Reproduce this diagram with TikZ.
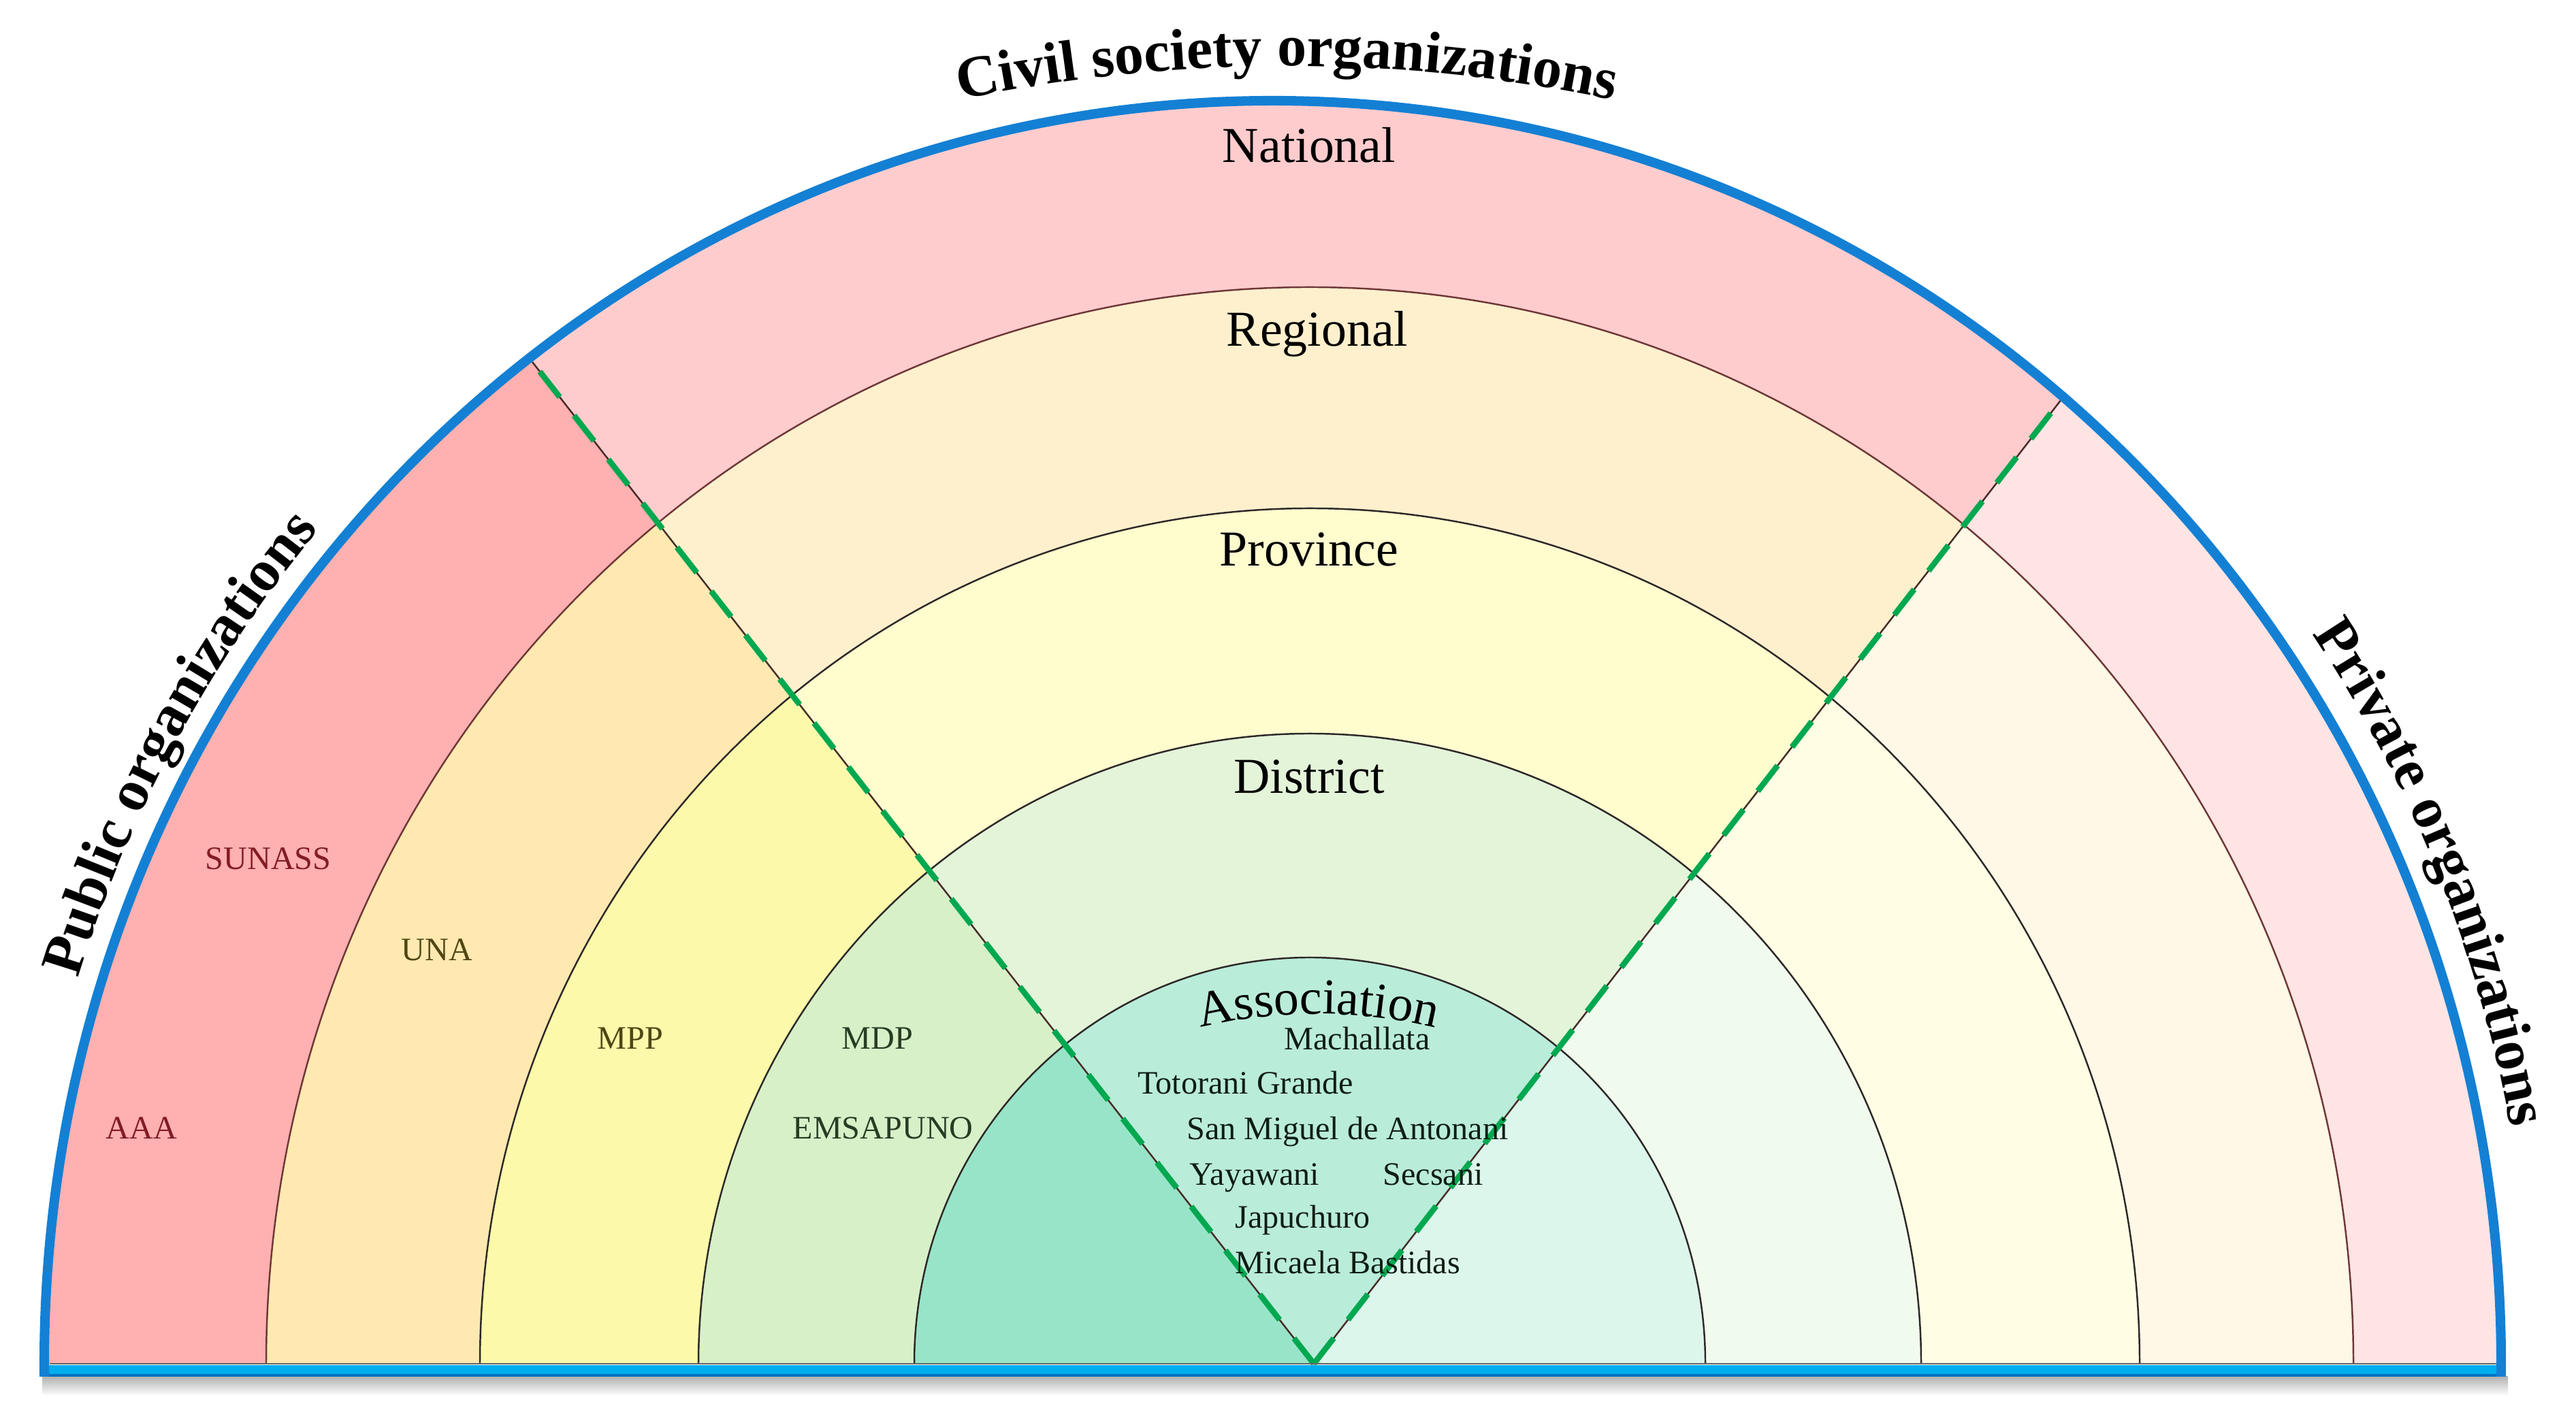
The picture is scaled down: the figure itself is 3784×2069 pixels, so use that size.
\documentclass[tikz,border=0pt]{standalone}
\usepackage{fontspec}
\setmainfont{Liberation Serif}
\usetikzlibrary{decorations.text,calc}
\definecolor{natM}{RGB}{255,204,206}
\definecolor{natL}{RGB}{255,176,176}
\definecolor{natR}{RGB}{255,228,228}
\definecolor{regM}{RGB}{255,240,205}
\definecolor{regL}{RGB}{255,233,176}
\definecolor{regR}{RGB}{255,248,230}
\definecolor{proM}{RGB}{255,252,206}
\definecolor{proL}{RGB}{252,250,170}
\definecolor{proR}{RGB}{255,254,228}
\definecolor{disM}{RGB}{227,244,217}
\definecolor{disL}{RGB}{216,240,200}
\definecolor{disR}{RGB}{240,250,237}
\definecolor{assM}{RGB}{186,236,218}
\definecolor{assL}{RGB}{152,228,200}
\definecolor{assR}{RGB}{220,246,236}
\definecolor{rimblue}{RGB}{20,128,212}
\definecolor{barblue}{RGB}{0,174,239}
\definecolor{bardark}{RGB}{0,112,192}
\definecolor{dashgreen}{RGB}{0,168,80}
\definecolor{ringline}{RGB}{45,40,40}
\definecolor{brownline}{RGB}{110,55,55}
\definecolor{redtxt}{RGB}{130,28,36}
\definecolor{olivetxt}{RGB}{80,70,20}
\definecolor{greentxt}{RGB}{40,60,35}
\definecolor{nametxt}{RGB}{15,30,20}
\newcommand\bigbold{\fontsize{24.5}{29}\selectfont\bfseries}
\newcommand\ringfont{\fontsize{21}{25}\selectfont}
\newcommand\smallfont{\fontsize{13.7}{16}\selectfont}
\newcommand\fillrings[5]{%
  \fill[#1] ($(O)+(-1804.5,0)$) arc[start angle=180,end angle=0,x radius=1804.5,y radius=1856] -- cycle;
  \fill[#2] ($(C)+(-1533,0)$) arc[start angle=180,end angle=0,x radius=1533,y radius=1582] -- cycle;
  \fill[#3] ($(C)+(-1219,0)$) arc[start angle=180,end angle=0,x radius=1219,y radius=1257] -- cycle;
  \fill[#4] ($(C)+(-898,0)$) arc[start angle=180,end angle=0,x radius=898,y radius=926] -- cycle;
  \fill[#5] ($(C)+(-581,0)$) arc[start angle=180,end angle=0,x radius=581,y radius=597] -- cycle;
}
\begin{document}
\begin{tikzpicture}[x=0.1mm,y=0.1mm,
  ringedge/.style={draw=ringline,line width=0.7pt},
  vline/.style={draw={rgb,255:red,70;green,45;blue,40},line width=0.7pt},
  gdash/.style={draw=dashgreen,line width=2.4pt,dash pattern=on 13.5pt off 9.8pt},
  lvl/.style={font=\ringfont,anchor=base,inner sep=0pt},
  org/.style={font=\smallfont,anchor=base west,inner sep=0pt},
]
\useasboundingbox (0,0) rectangle (3784,2069);
\coordinate (C) at (1924,65);
\coordinate (O) at (1869.5,65);
\coordinate (apex) at (1930,65);
\coordinate (Ltop) at (782,1537);
\coordinate (Rtop) at (3035,1491);

% middle sector
\fillrings{natM}{regM}{proM}{disM}{assM}
% left sector
\begin{scope}
  \clip (apex) -- ($(apex)!1.5!(Ltop)$) -- (-500,2300) -- (-500,65) -- cycle;
  \fillrings{natL}{regL}{proL}{disL}{assL}
\end{scope}
% right sector
\begin{scope}
  \clip (apex) -- ($(apex)!1.5!(Rtop)$) -- (4300,2300) -- (4300,65) -- cycle;
  \fillrings{natR}{regR}{proR}{disR}{assR}
\end{scope}

% ring boundaries
\draw[ringedge,draw=brownline] ($(C)+(-1533,0)$) arc[start angle=180,end angle=0,x radius=1533,y radius=1582];
\draw[ringedge] ($(C)+(-1219,0)$) arc[start angle=180,end angle=0,x radius=1219,y radius=1257];
\draw[ringedge] ($(C)+(-898,0)$) arc[start angle=180,end angle=0,x radius=898,y radius=926];
\draw[ringedge] ($(C)+(-581,0)$) arc[start angle=180,end angle=0,x radius=581,y radius=597];

% V lines
\draw[vline] (Ltop) -- (apex) -- (Rtop);
\draw[gdash] (apex) -- (Ltop);
\draw[gdash] (apex) -- (Rtop);

% base
\shade[top color=black!30, bottom color=white] (62,18) rectangle (3684,46);
\fill[barblue] (58,46) rectangle (3680,63);
\draw[bardark,line width=1.3pt] (58,48) -- (3680,48);
\draw[black!60,line width=0.8pt] ($(O)+(-1797,0)$) -- ($(O)+(1797,0)$);
\draw[rimblue,line width=4pt,line join=miter]
  ($(O)+(-1804.5,-19)$) -- ($(O)+(-1804.5,0)$)
  arc[start angle=180,end angle=0,x radius=1804.5,y radius=1856] -- ++(0,-19);

% arched titles
\path[decorate,decoration={text along path,text align=center,
  text={|\bigbold|Civil society organizations}}]
  ($(1890,-358)+(125:2330)$) arc[start angle=125,end angle=55,radius=2330];
\path[decorate,decoration={text along path,text align=center,
  text={|\bigbold|Public organizations}}]
  ($(O)+(176:1839.5 and 1891)$) arc[start angle=176,end angle=126,x radius=1839.5,y radius=1891];
\path[decorate,decoration={text along path,text align=center,
  text={|\bigbold|Private organizations}}]
  ($(O)+(47:1849.5 and 1901)$) arc[start angle=47,end angle=-2,x radius=1849.5,y radius=1901];
\path[decorate,decoration={text along path,text align=center,
  text={|\ringfont|Association}}]
  ($(1936,-162)+(115:741)$) arc[start angle=115,end angle=65,radius=741];

% level labels
\node[lvl] (national) at (1923,1830) {National};
\node[lvl] (regional) at (1935,1560) {Regional};
\node[lvl] (province) at (1923,1237) {Province};
\node[lvl] (district) at (1923,903) {District};

% public organizations
\node[org,text=redtxt] (sunass) at (301,791) {SUNASS};
\node[org,text=redtxt] (aaa) at (155,395) {AAA};
\node[org,text=olivetxt] (una) at (589,657) {UNA};
\node[org,text=olivetxt] (mpp) at (877,527) {MPP};
\node[org,text=greentxt] (mdp) at (1236,527) {MDP};
\node[org,text=greentxt] (emsapuno) at (1164,395) {EMSAPUNO};

% associations
\node[org,text=nametxt] (machallata) at (1886,526) {Machallata};
\node[org,text=nametxt] (totorani) at (1671,461) {Totorani Grande};
\node[org,text=nametxt] (sanmiguel) at (1743,394) {San Miguel de Antonani};
\node[org,text=nametxt] (yayawani) at (1747,327) {Yayawani};
\node[org,text=nametxt] (secsani) at (2031,327) {Secsani};
\node[org,text=nametxt] (japuchuro) at (1814,264) {Japuchuro};
\node[org,text=nametxt] (micaela) at (1814,197) {Micaela Bastidas};
\end{tikzpicture}
\end{document}
